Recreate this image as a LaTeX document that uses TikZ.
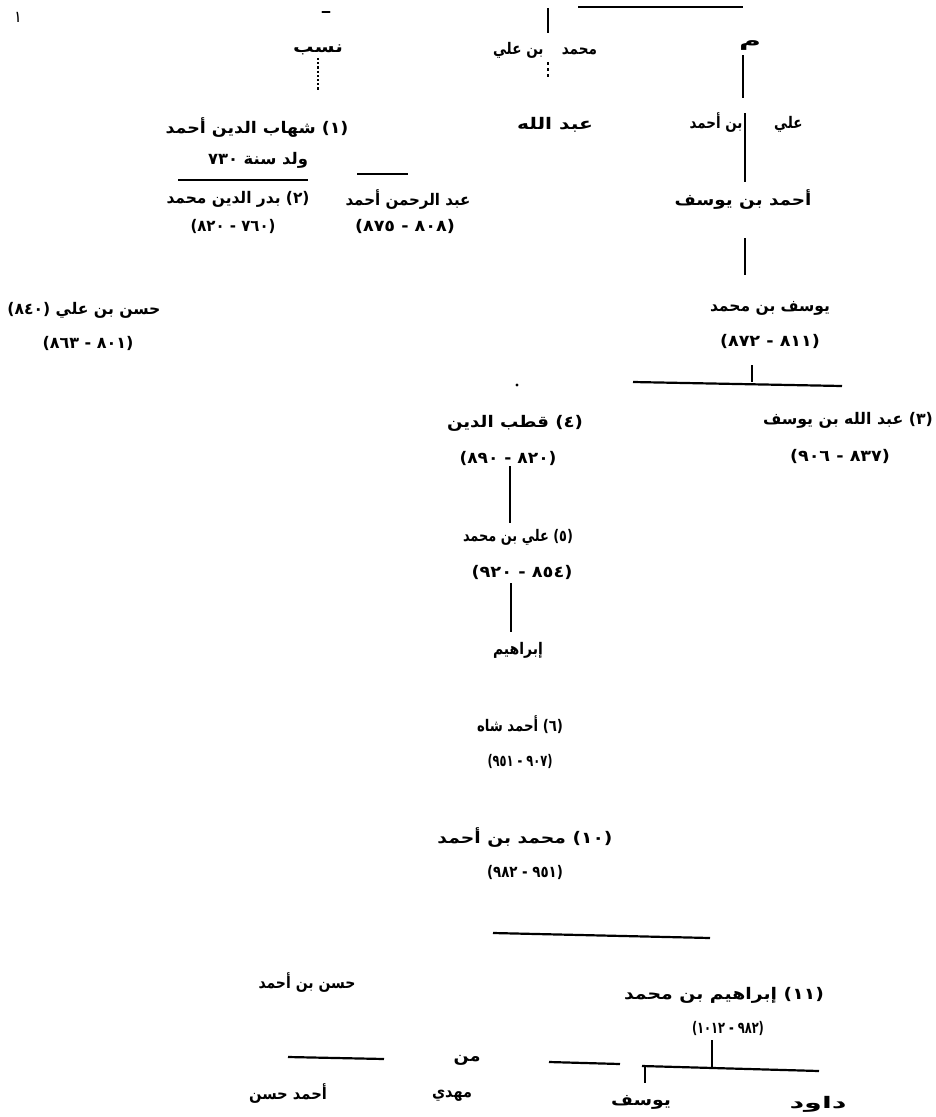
\documentclass[tikz,border=0pt]{standalone}
\usepackage{fontspec}
\usepackage{graphicx}
\newfontfamily\arabicfont[Script=Arabic]{DejaVu Sans}
\TeXXeTstate=1
\newcommand{\artxt}[2]{\resizebox{#1pt}{\height}{#2}}
\tikzset{
  nm/.style={inner sep=0pt, font=\arabicfont\bfseries\fontsize{16}{18}\selectfont},
  ln/.style={line width=2.2pt},
  thin ln/.style={line width=1.5pt},
}
\begin{document}
\begin{tikzpicture}[x=1pt,y=-1pt]
      \useasboundingbox (0,0) rectangle (936,1117);
      % top row
      \node[nm] (mk) at (18,17) {\artxt{5}{\beginR ١\endR}};
      \node[nm] (dsh) at (326,12) {\artxt{8}{\beginR ـ\endR}};
      \node[nm] (nsb) at (318,50) {\artxt{50}{\beginR نسب\endR}};
      \node[nm] (top) at (545,50) {\artxt{104}{\beginR محمد \quad بن علي\endR}};
      \node[nm] (rt) at (750,46) {\artxt{22}{\beginR م\endR}};
      \coordinate (t1) at (548,8);
      \coordinate (t2) at (548,33);
      \coordinate (t3) at (548,62);
      \coordinate (t4) at (548,80);
      \coordinate (h1) at (578,7);
      \coordinate (h2) at (743,7);
      \draw[thin ln] (h1) -- (h2);
      \draw[ln] (t1) -- (t2);
      \draw[ln,dashed] (t3) -- (t4);
      \draw[ln,dotted] (318,58) coordinate (d1) -- (318,90) coordinate (d2);
      % left branch
      \node[nm] (l1) at (257,128) {\artxt{183}{\beginR (١) شهاب الدين أحمد\endR}};
      \node[nm] (l2) at (258,160) {\artxt{100}{\beginR ولد سنة ٧٣٠\endR}};
      \draw[ln] (178,180) coordinate (la) -- (308,180) coordinate (lb);
      \draw[ln] (357,174) coordinate (lc) -- (408,174) coordinate (ld);
      \node[nm] (l3a) at (238,199) {\artxt{143}{\beginR (٢) بدر الدين محمد\endR}};
      \node[nm] (l3b) at (408,200) {\artxt{125}{\beginR عبد الرحمن أحمد\endR}};
      \node[nm] (l4a) at (233,226) {\artxt{85}{\beginR (٧٦٠ - ٨٢٠)\endR}};
      \node[nm] (l4b) at (405,226) {\artxt{100}{\beginR (٨٠٨ - ٨٧٥)\endR}};
      \node[nm] (fl1) at (84,310) {\artxt{153}{\beginR حسن بن علي (٨٤٠)\endR}};
      \node[nm] (fl2) at (88,343) {\artxt{91}{\beginR (٨٠١ - ٨٦٣)\endR}};
      % centre and right branch
      \node[nm] (c1) at (555,125) {\artxt{76}{\beginR عبد الله\endR}};
      \node[nm] (r1) at (746,123) {\artxt{113}{\beginR علي \qquad بن أحمد\endR}};
      \node[nm] (r2) at (743,200) {\artxt{137}{\beginR أحمد بن يوسف\endR}};
      \node[nm] (r3) at (770,308) {\artxt{120}{\beginR يوسف بن محمد\endR}};
      \node[nm] (r4) at (770,341) {\artxt{100}{\beginR (٨١١ - ٨٧٢)\endR}};
      \draw[ln] (743,55) coordinate (ra) -- (743,98) coordinate (rb);
      \draw[ln] (745,113) coordinate (rc) -- (745,182) coordinate (rd);
      \draw[ln] (745,238) coordinate (re) -- (745,275) coordinate (rf);
      \draw[ln] (752,365) coordinate (rg) -- (752,382) coordinate (rh);
      \draw[ln] (633,382) coordinate (ri) -- (842,386) coordinate (rj);
      \fill (517,385) circle (1.6);
      \node[nm] (m1) at (515,423) {\artxt{136}{\beginR (٤) قطب الدين\endR}};
      \node[nm] (m2) at (508,458) {\artxt{97}{\beginR (٨٢٠ - ٨٩٠)\endR}};
      \node[nm] (rr1) at (848,420) {\artxt{170}{\beginR (٣) عبد الله بن يوسف\endR}};
      \node[nm] (rr2) at (840,456) {\artxt{100}{\beginR (٨٣٧ - ٩٠٦)\endR}};
      \draw[ln] (510,466) coordinate (ma) -- (510,523) coordinate (mb);
      \node[nm] (m3) at (518,537) {\artxt{110}{\beginR (٥) علي بن محمد\endR}};
      \node[nm] (m4) at (522,572) {\artxt{101}{\beginR (٨٥٤ - ٩٢٠)\endR}};
      \draw[ln] (511,583) coordinate (mc) -- (511,632) coordinate (md);
      \node[nm] (m5) at (518,650) {\artxt{50}{\beginR إبراهيم\endR}};
      \node[nm] (m6) at (520,725) {\artxt{86}{\beginR (٦) أحمد شاه\endR}};
      \node[nm] (m7) at (520,761) {\artxt{65}{\beginR (٩٠٧ - ٩٥١)\endR}};
      \node[nm] (m8) at (525,837) {\artxt{175}{\beginR (١٠) محمد بن أحمد\endR}};
      \node[nm] (m9) at (525,872) {\artxt{76}{\beginR (٩٥١ - ٩٨٢)\endR}};
      \draw[ln] (493,933) coordinate (me) -- (710,938) coordinate (mf);
      % bottom row
      \node[nm] (b1) at (307,982) {\artxt{97}{\beginR حسن بن أحمد\endR}};
      \node[nm] (b2) at (724,995) {\artxt{200}{\beginR (١١) إبراهيم بن محمد\endR}};
      \node[nm] (b3) at (728,1028) {\artxt{72}{\beginR (٩٨٢ - ١٠١٢)\endR}};
      \draw[ln] (288,1057) coordinate (ba) -- (384,1059) coordinate (bb);
      \node[nm] (b4) at (467,1060) {\artxt{27}{\beginR من\endR}};
      \draw[ln] (549,1062) coordinate (bc) -- (620,1064) coordinate (bd);
      \draw[ln] (642,1066) coordinate (be) -- (819,1071) coordinate (bf);
      \draw[ln] (712,1040) coordinate (bg) -- (712,1068);
      \draw[ln] (645,1066) -- (645,1083) coordinate (bh);
      \node[nm] (b5) at (288,1093) {\artxt{78}{\beginR أحمد حسن\endR}};
      \node[nm] (b6) at (452,1096) {\artxt{40}{\beginR مهدي\endR}};
      \node[nm] (b7) at (641,1102) {\artxt{60}{\beginR يوسف\endR}};
      \node[nm] (b8) at (818,1104) {\artxt{57}{\beginR داود\endR}};
\end{tikzpicture}
\end{document}
